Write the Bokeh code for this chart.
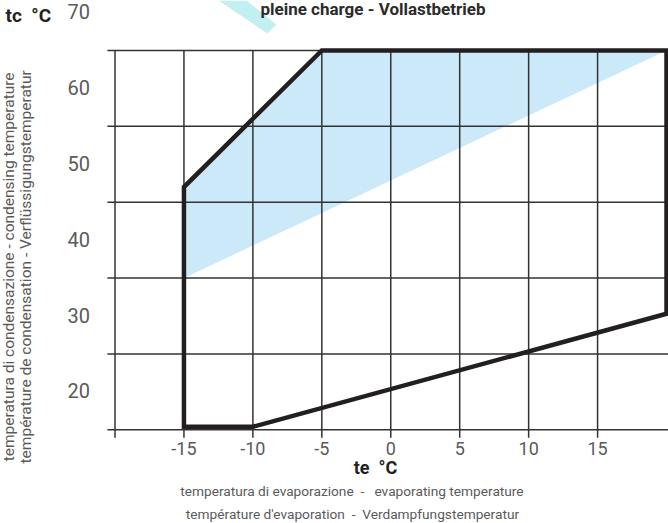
from bokeh.plotting import figure
from bokeh.models import Range1d
from bokeh.embed import file_html
from bokeh.resources import INLINE
from bokeh.core.properties import value

# ---------------- data ----------------
te_ticks = [-15, -10, -5, 0, 5, 10, 15]          # evaporating temperature tick labels (°C)
tc_ticks = [20, 30, 40, 50, 60, 70]              # condensing temperature tick labels (°C)
grid_te = [-20, -15, -10, -5, 0, 5, 10, 15]      # vertical grid lines
grid_tc = [15, 25, 35, 45, 55, 65]               # horizontal grid lines

# operating envelope (thick outline)
env_te = [-15, -15, -5, 20, 20, -10]
env_tc = [15.4, 47, 65, 65, 30.3, 15.4]

# full load area (blue)
full_te = [-15, -15, -5, 20, -15]
full_tc = [35, 47, 65, 65, 35]

# decorative cyan logo tip at the top
logo_te = [-12.49, -10.46, -8.29, -8.94]
logo_tc = [71.6, 71.6, 68.43, 67.24]

# ---------------- layout ----------------
W, H = 668, 523
TE_MIN, TE_MAX = -28.305, 20.144
TC_MIN, TC_MAX = 2.648, 71.591
GRID_LEFT = -20.55      # horizontal lines stick out left of the frame
GRID_BOTTOM = 13.95     # vertical lines stick out below the frame
AX_TE = -20             # left axis position
AX_TC = 15              # bottom axis position

FONT = "Roboto"
LIGHT = "#5a5a5a"
DARK = "#222222"
NB = "\u00a0"

p = figure(width=W, height=H,
           x_range=Range1d(TE_MIN, TE_MAX), y_range=Range1d(TC_MIN, TC_MAX),
           output_backend="svg", toolbar_location=None,
           x_axis_location=None, y_axis_location=None,
           min_border=0, min_border_left=0, min_border_right=0,
           min_border_top=0, min_border_bottom=0)
p.outline_line_color = None
p.xgrid.visible = False
p.ygrid.visible = False

# blue full-load area
p.patch(full_te, full_tc, fill_color="#cbe9f9", line_color=None)

# logo decoration
p.patch(logo_te, logo_tc, fill_color="#c2eff1", line_color=None)

# grid
top = max(grid_tc)
p.segment(x0=grid_te, y0=[GRID_BOTTOM] * len(grid_te), x1=grid_te, y1=[top] * len(grid_te),
          line_color="#333333", line_width=1.5)
p.segment(x0=[GRID_LEFT] * len(grid_tc), y0=grid_tc, x1=[TE_MAX] * len(grid_tc), y1=grid_tc,
          line_color="#333333", line_width=1.5)

# envelope
p.patch(env_te, env_tc, fill_color=None, line_color="#231f20", line_width=4.5, line_join="miter")


def txt(xs, ys, texts, xo, yo, size, color, bold=False, align="left", angle=0.0):
    p.text(x=xs, y=ys, text=texts, x_offset=xo, y_offset=yo,
           text_font=value(FONT), text_font_size=value(size), text_color=color,
           text_font_style="bold" if bold else "normal",
           text_align=align, text_baseline="middle", angle=angle)


# tick labels
txt(te_ticks, [AX_TC] * len(te_ticks), [str(t) for t in te_ticks], 0, 19, "18px", LIGHT,
    align="center")
txt([AX_TE] * len(tc_ticks), tc_ticks, [str(t) for t in tc_ticks], -25, -1, "20px", LIGHT,
    align="right")

# axis titles and headings
txt([AX_TE], [70], ["tc" + NB + NB + "°C"], -109.5, 3.4, "19px", DARK, bold=True)
txt([0], [70], ["pleine charge - Vollastbetrieb"], -17.8, -3.5, "17px", "#2b2b2b", bold=True,
    align="center")
txt([AX_TE], [35], ["temperatura di condensazione - condensing temperature"], -106, -11.2,
    "15.5px", LIGHT, align="center", angle=1.5708)
txt([AX_TE], [35], ["température de condensation - Verflüssigungstemperatur"], -89, -11.2,
    "15.5px", LIGHT, align="center", angle=1.5708)
txt([0], [AX_TC], ["te" + NB + NB + "°C"], -15.3, 38.2, "18px", DARK, bold=True, align="center")
txt([0], [AX_TC], ["temperatura di evaporazione " + NB + "-" + NB + NB + " evaporating temperature"],
    -38.8, 61.7, "13.7px", LIGHT, align="center")
txt([0], [AX_TC], ["température d'evaporation " + NB + "-" + NB + " Verdampfungstemperatur"],
    -38.3, 84.5, "13.7px", LIGHT, align="center")

open("out.html", "w").write(file_html(p, INLINE))
